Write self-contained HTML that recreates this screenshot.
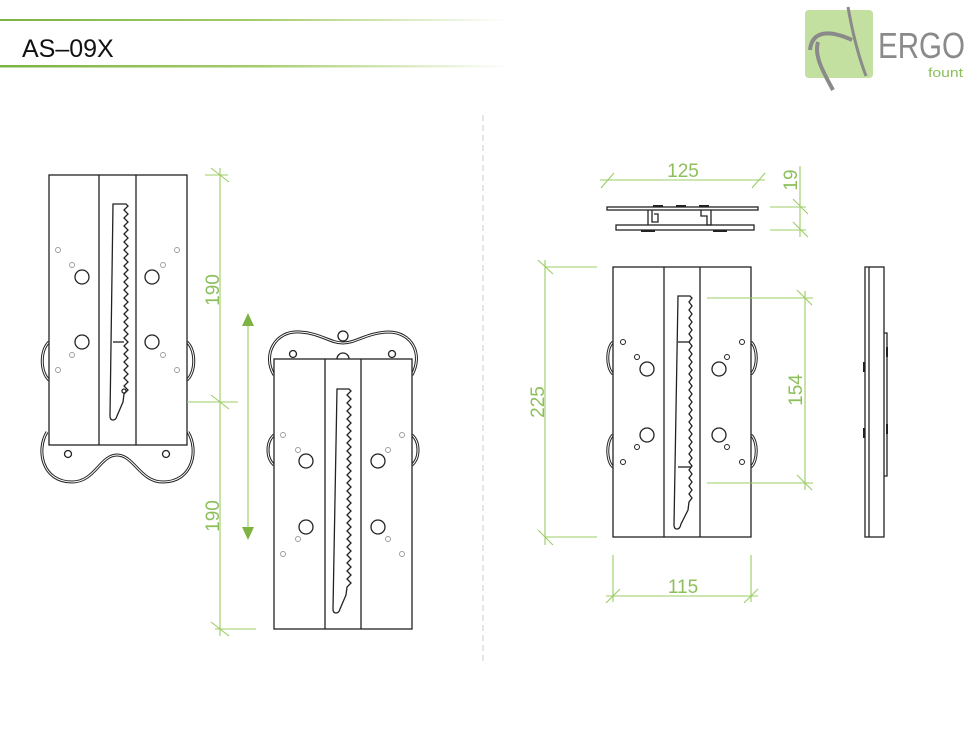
<!DOCTYPE html>
<html><head><meta charset="utf-8"><style>
html,body{margin:0;padding:0;background:#fff;}
svg{display:block;}
text{font-family:"Liberation Sans",sans-serif;}
</style></head><body>
<svg width="980" height="735" viewBox="0 0 980 735" xmlns="http://www.w3.org/2000/svg">
<defs>
<linearGradient id="gl" x1="0" x2="1" y1="0" y2="0">
<stop offset="0" stop-color="#7cb342"/><stop offset="0.5" stop-color="#a5cc6b"/><stop offset="1" stop-color="#fff"/>
</linearGradient>
</defs>
<rect x="0" y="19" width="510" height="2" fill="url(#gl)"/>
<rect x="0" y="65" width="510" height="2.5" fill="url(#gl)"/>
<text x="22" y="57" font-size="25" fill="#111">AS–09X</text>
<rect x="805" y="10" width="68" height="68" rx="4" fill="#c3e0a0"/>
<path d="M848,7 C852,30 858,55 866,76" stroke="#8a8a8a" stroke-width="3" fill="none"/>
<path d="M810,50 C812,30 830,30 852,40 M818,42 C814,55 822,70 833,90" stroke="#8a8a8a" stroke-width="4" fill="none"/>
<text x="878" y="58" font-size="36" fill="#8a8a8a" textLength="87" lengthAdjust="spacingAndGlyphs">ERGO</text>
<text x="928" y="77" font-size="13" fill="#8cbf5a" textLength="35" lengthAdjust="spacingAndGlyphs">fount</text>
<line x1="483" y1="115" x2="483" y2="662" stroke="#ccc" stroke-width="1" stroke-dasharray="6,4"/>

<g fill="none" stroke="#222" stroke-width="1.3">
<!-- Plate 1 -->
<path d="M47,432 C36,450 42,482 72,482 C95,482 100,455 117,455 C134,455 140,482 163,482 C193,482 199,450 188,432" stroke-width="3"/>
<path d="M47,432 C36,450 42,482 72,482 C95,482 100,455 117,455 C134,455 140,482 163,482 C193,482 199,450 188,432" stroke="#fff" stroke-width="1"/>
<path d="M49,342 C40,350 40,372 49,380 M187,342 C196,350 196,372 187,380" stroke-width="3"/>
<path d="M49,342 C40,350 40,372 49,380 M187,342 C196,350 196,372 187,380" stroke="#fff" stroke-width="1"/>
<rect x="49" y="175" width="138" height="270" fill="#fff"/>
<line x1="99" y1="175" x2="99" y2="445"/><line x1="136" y1="175" x2="136" y2="445"/>
<path d="M113,204 L126,204 l2,2 l-4,4 l4,4 l-4,4 l4,4 l-4,4 l4,4 l-4,4 l4,4 l-4,4 l4,4 l-4,4 l4,4 l-4,4 l4,4 l-4,4 l4,4 l-4,4 l4,4 l-4,4 l4,4 l-4,4 l4,4 l-4,4 l4,4 l-4,4 l4,4 l-4,4 l4,4 l-4,4 l4,4 l-4,4 l4,4 l-4,4 l4,4 l-4,4 l4,4 l-4,4 l4,4 l-4,4 l4,4 l-4,4 l4,4 l-4,4 l4,4 l-4,4 l4,4 l-4,4 l-1,8 l-6,14 q-1,4 -4,4 q-3,0 -3,-4 Z"/>
<line x1="113" y1="342" x2="124" y2="342"/>
<circle cx="124" cy="391" r="2"/>
<circle cx="82" cy="277" r="7"/><circle cx="152" cy="277" r="7"/><circle cx="82" cy="342" r="7"/><circle cx="152" cy="342" r="7"/>
<g stroke="#999" stroke-width="0.9"><circle cx="58" cy="250" r="2.5"/><circle cx="177" cy="250" r="2.5"/><circle cx="72" cy="265" r="2.5"/><circle cx="163" cy="265" r="2.5"/><circle cx="72" cy="355" r="2.5"/><circle cx="163" cy="355" r="2.5"/><circle cx="58" cy="370" r="2.5"/><circle cx="177" cy="370" r="2.5"/></g>
<circle cx="68" cy="454" r="3.5"/><circle cx="166" cy="454" r="3.5"/>

<!-- Plate 2 -->
<path d="M274,375 C262,355 275,330 300,332 C320,333 330,343 343,343 C356,343 366,333 388,332 C413,332 423,355 412,375" stroke-width="3"/>
<path d="M274,375 C262,355 275,330 300,332 C320,333 330,343 343,343 C356,343 366,333 388,332 C413,332 423,355 412,375" stroke="#fff" stroke-width="1"/>
<path d="M274,435 C266,442 266,458 274,465 M412,435 C420,442 420,458 412,465" stroke-width="3"/>
<path d="M274,435 C266,442 266,458 274,465 M412,435 C420,442 420,458 412,465" stroke="#fff" stroke-width="1"/>
<circle cx="343" cy="336" r="5" fill="#fff"/>
<path d="M337,359 a6,6 0 0 1 12,0"/>
<circle cx="293" cy="354" r="3.5"/><circle cx="392" cy="354" r="3.5"/>
<rect x="274" y="359" width="138" height="270" fill="#fff"/>
<line x1="325" y1="359" x2="325" y2="629"/><line x1="361" y1="359" x2="361" y2="629"/>
<path d="M337,389 L349,389 l2,2 l-4,4 l4,4 l-4,4 l4,4 l-4,4 l4,4 l-4,4 l4,4 l-4,4 l4,4 l-4,4 l4,4 l-4,4 l4,4 l-4,4 l4,4 l-4,4 l4,4 l-4,4 l4,4 l-4,4 l4,4 l-4,4 l4,4 l-4,4 l4,4 l-4,4 l4,4 l-4,4 l4,4 l-4,4 l4,4 l-4,4 l4,4 l-4,4 l4,4 l-4,4 l4,4 l-4,4 l4,4 l-4,4 l4,4 l-4,4 l4,4 l-4,4 l4,4 l-4,4 l4,4 l-4,4 l-1,8 l-6,14 q-1,4 -4,4 q-3,0 -3,-4 Z"/>
<circle cx="306" cy="461" r="7"/><circle cx="378" cy="461" r="7"/><circle cx="306" cy="527" r="7"/><circle cx="378" cy="527" r="7"/>
<g stroke="#999" stroke-width="0.9"><circle cx="283" cy="435" r="2.5"/><circle cx="402" cy="435" r="2.5"/><circle cx="298" cy="450" r="2.5"/><circle cx="388" cy="450" r="2.5"/><circle cx="298" cy="539" r="2.5"/><circle cx="388" cy="539" r="2.5"/><circle cx="283" cy="554" r="2.5"/><circle cx="402" cy="554" r="2.5"/></g>

<!-- Top view -->
<rect x="607" y="207" width="151" height="3"/>
<rect x="616" y="225" width="138" height="5"/>
<path d="M648,210 V225 M652,210 V222 H658 V214 H654 M701,210 V216 H707 V225 H711 V210"/>
<g fill="#222" stroke="none"><rect x="653" y="205" width="10" height="2.5"/><rect x="676" y="205" width="10" height="2.5"/><rect x="699" y="205" width="10" height="2.5"/><rect x="641" y="230" width="14" height="2"/><rect x="713" y="230" width="14" height="2"/></g>

<!-- Front plate -->
<path d="M613,342 C606,348 606,368 613,374 M751,342 C758,348 758,368 751,374 M613,435 C606,441 606,461 613,467 M751,435 C758,441 758,461 751,467" stroke-width="3"/>
<path d="M613,342 C606,348 606,368 613,374 M751,342 C758,348 758,368 751,374 M613,435 C606,441 606,461 613,467 M751,435 C758,441 758,461 751,467" stroke="#fff" stroke-width="1"/>
<rect x="613" y="267" width="138" height="270" fill="#fff"/>
<line x1="664" y1="267" x2="664" y2="537"/><line x1="700" y1="267" x2="700" y2="537"/>
<path d="M678,296 L690,296 l2,2 l-3,4 l3,4 l-3,4 l3,4 l-3,4 l3,4 l-3,4 l3,4 l-3,4 l3,4 l-3,4 l3,4 l-3,4 l3,4 l-3,4 l3,4 l-3,4 l3,4 l-3,4 l3,4 l-3,4 l3,4 l-3,4 l3,4 l-3,4 l3,4 l-3,4 l3,4 l-3,4 l3,4 l-3,4 l3,4 l-3,4 l3,4 l-3,4 l3,4 l-3,4 l3,4 l-3,4 l3,4 l-3,4 l3,4 l-3,4 l3,4 l-3,4 l3,4 l-3,4 l3,4 l-3,4 l3,4 l-3,4 l-1,8 l-7,14 q-1,5 -4,5 q-3,0 -3,-4 Z"/>
<line x1="678" y1="342" x2="690" y2="342"/><line x1="678" y1="467" x2="691" y2="467"/>
<circle cx="647" cy="369" r="7"/><circle cx="719" cy="369" r="7"/><circle cx="647" cy="435" r="7"/><circle cx="719" cy="435" r="7"/>
<g stroke-width="1"><circle cx="623" cy="342" r="2.5"/><circle cx="742" cy="342" r="2.5"/><circle cx="637" cy="357" r="2.5"/><circle cx="727" cy="357" r="2.5"/><circle cx="637" cy="447" r="2.5"/><circle cx="727" cy="447" r="2.5"/><circle cx="623" cy="462" r="2.5"/><circle cx="742" cy="462" r="2.5"/></g>

<!-- Side view -->
<rect x="865" y="267" width="19" height="270"/>
<line x1="869" y1="267" x2="869" y2="537"/>
<path d="M884,333 H887 V476 H884"/>
<g fill="#222" stroke="none"><rect x="886" y="347" width="2" height="10"/><rect x="886" y="424" width="2" height="10"/><rect x="863" y="362" width="2" height="10"/><rect x="863" y="428" width="2" height="10"/></g>
</g>

<g stroke="#9ccc65" stroke-width="1.1" fill="none">
<line x1="220" y1="168" x2="220" y2="636"/>
<line x1="211" y1="168" x2="229" y2="182"/><line x1="211" y1="395" x2="229" y2="409"/><line x1="211" y1="622" x2="229" y2="636"/>
<line x1="187" y1="402" x2="238" y2="402"/>
<line x1="205" y1="175" x2="228" y2="175"/><line x1="215" y1="629" x2="256" y2="629"/>
<line x1="248" y1="322" x2="248" y2="530"/>
<line x1="600" y1="180" x2="765" y2="180"/>
<line x1="601" y1="188" x2="614" y2="173"/><line x1="752" y1="188" x2="765" y2="173"/>
<line x1="800" y1="166" x2="800" y2="237"/>
<line x1="770" y1="207" x2="806" y2="207"/><line x1="770" y1="230" x2="806" y2="230"/>
<line x1="793" y1="199" x2="808" y2="214"/><line x1="793" y1="222" x2="808" y2="237"/>
<line x1="545" y1="260" x2="545" y2="545"/>
<line x1="538" y1="260" x2="553" y2="274"/><line x1="538" y1="530" x2="553" y2="545"/>
<line x1="545" y1="267" x2="597" y2="267"/><line x1="545" y1="537" x2="597" y2="537"/>
<line x1="805" y1="291" x2="805" y2="490"/>
<line x1="707" y1="298" x2="813" y2="298"/><line x1="707" y1="483" x2="813" y2="483"/>
<line x1="797" y1="290" x2="812" y2="305"/><line x1="797" y1="475" x2="812" y2="490"/>
<line x1="606" y1="596" x2="758" y2="596"/>
<line x1="613" y1="555" x2="613" y2="602"/><line x1="751" y1="555" x2="751" y2="602"/>
<line x1="606" y1="603" x2="620" y2="589"/><line x1="744" y1="603" x2="758" y2="589"/>
</g>
<g fill="#7cb342"><path d="M242,326 L248,313 L254,326 Z"/><path d="M242,527 L248,540 L254,527 Z"/></g>
<g fill="#8cbf5a" font-size="19">
<text transform="translate(219,290) rotate(-90)" text-anchor="middle">190</text>
<text transform="translate(219,516) rotate(-90)" text-anchor="middle">190</text>
<text x="683" y="177" text-anchor="middle">125</text>
<text transform="translate(797,180) rotate(-90)" text-anchor="middle">19</text>
<text transform="translate(544,402) rotate(-90)" text-anchor="middle">225</text>
<text transform="translate(802,390) rotate(-90)" text-anchor="middle">154</text>
<text x="683" y="593" text-anchor="middle">115</text>
</g>
</svg>
</body></html>
